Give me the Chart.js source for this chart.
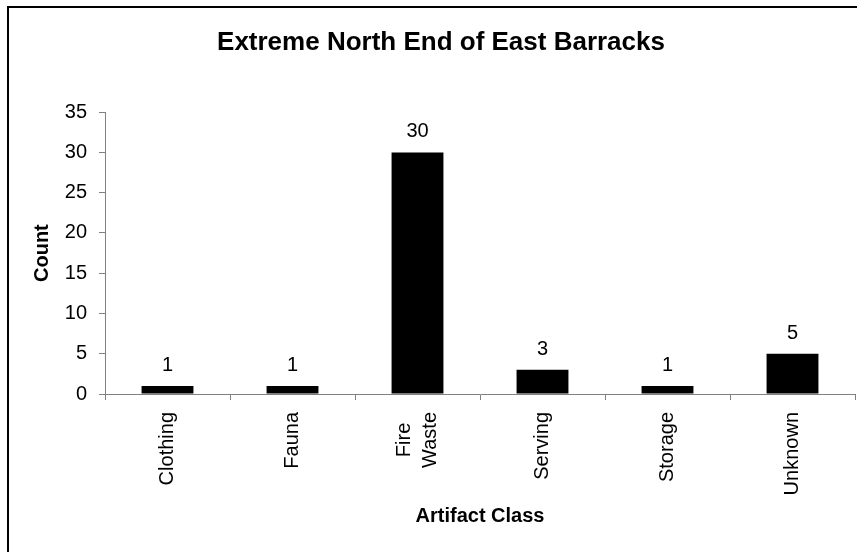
<!DOCTYPE html>
<html>
<head>
<meta charset="utf-8">
<script src="https://cdn.jsdelivr.net/npm/chart.js@4/dist/chart.umd.min.js"></script>
<style>
  html, body { margin: 0; padding: 0; background: #fff; overflow: hidden; }
  #frame {
    position: absolute; left: 7px; top: 6px;
    width: 864px; height: 560px;
    border: 2px solid #000; background: #fff;
  }
</style>
</head>
<body>
<div id="frame"><canvas id="chart"></canvas></div>
<script>
var categories = [["Clothing"], ["Fauna"], ["Fire", "Waste"], ["Serving"], ["Storage"], ["Unknown"]];
var counts = [1, 1, 30, 3, 1, 5];
var yTicks = [0, 5, 10, 15, 20, 25, 30, 35];

var FONT = "Arial, 'Liberation Sans', Helvetica, sans-serif";
var GREY = "#808080";

// value labels above the bars and the rotated category names
var labelsPlugin = {
  id: "labels",
  afterDatasetsDraw: function(chart) {
    var ctx = chart.ctx;
    var meta = chart.getDatasetMeta(0);
    ctx.save();
    ctx.fillStyle = "#000";
    ctx.font = "20px " + FONT;
    ctx.textAlign = "center";
    ctx.textBaseline = "alphabetic";
    meta.data.forEach(function(bar, i) {
      ctx.fillText(String(counts[i]), bar.x, bar.y - 15);
    });
    ctx.restore();
  },
  afterDraw: function(chart) {
    var ctx = chart.ctx;
    var xs = chart.scales.x;
    var top = chart.chartArea.bottom + 18;
    var pitch = 26;
    ctx.save();
    ctx.fillStyle = "#000";
    ctx.font = "20px " + FONT;
    ctx.textBaseline = "middle";
    ctx.textAlign = "center";
    categories.forEach(function(lines, i) {
      var x = xs.getPixelForValue(i);
      var len = Math.max.apply(null, lines.map(function(l) { return ctx.measureText(l).width; }));
      lines.forEach(function(line, j) {
        var off = (j - (lines.length - 1) / 2) * pitch;
        ctx.save();
        ctx.translate(x + off, top);
        ctx.rotate(-Math.PI / 2);
        ctx.fillText(line, -len / 2, 0);
        ctx.restore();
      });
    });
    ctx.restore();
  }
};

new Chart(document.getElementById("chart"), {
  type: "bar",
  data: {
    labels: categories.map(function(c) { return c.join(" "); }),
    datasets: [{
      data: counts,
      backgroundColor: "#000",
      borderWidth: 0,
      categoryPercentage: 1,
      barPercentage: 0.415
    }]
  },
  options: {
    responsive: true,
    maintainAspectRatio: false,
    animation: false,
    layout: { padding: { left: 18, right: 18, top: 0, bottom: 0 } },
    plugins: {
      legend: { display: false },
      tooltip: { enabled: false },
      title: {
        display: true,
        text: "Extreme North End of East Barracks",
        color: "#000",
        font: { family: FONT, size: 26, weight: "bold", lineHeight: 1.2 },
        padding: { top: 19, bottom: 54 }
      }
    },
    scales: {
      x: {
        afterFit: function(scale) { scale.height = 174; },
        grid: { display: true, drawOnChartArea: false, drawTicks: true, tickLength: 6, color: GREY, offset: true },
        border: { display: true, color: GREY, width: 1 },
        ticks: { display: false },
        title: {
          display: true,
          text: "Artifact Class",
          color: "#000",
          font: { family: FONT, size: 20, weight: "bold", lineHeight: 1.2 },
          padding: { top: 0, bottom: 40 }
        }
      },
      y: {
        min: 0,
        max: 35,
        afterFit: function(scale) { scale.width = 78; },
        afterBuildTicks: function(scale) {
          scale.ticks = yTicks.map(function(v) { return { value: v }; });
        },
        grid: { display: true, drawOnChartArea: false, drawTicks: true, tickLength: 6, color: GREY },
        border: { display: true, color: GREY, width: 1 },
        ticks: {
          color: "#000",
          padding: 12,
          font: { family: FONT, size: 20 }
        },
        title: {
          display: true,
          text: "Count",
          color: "#000",
          font: { family: FONT, size: 20, weight: "bold", lineHeight: 1.2 },
          padding: { top: 3, bottom: 0 }
        }
      }
    }
  },
  plugins: [labelsPlugin]
});
</script>
</body>
</html>
